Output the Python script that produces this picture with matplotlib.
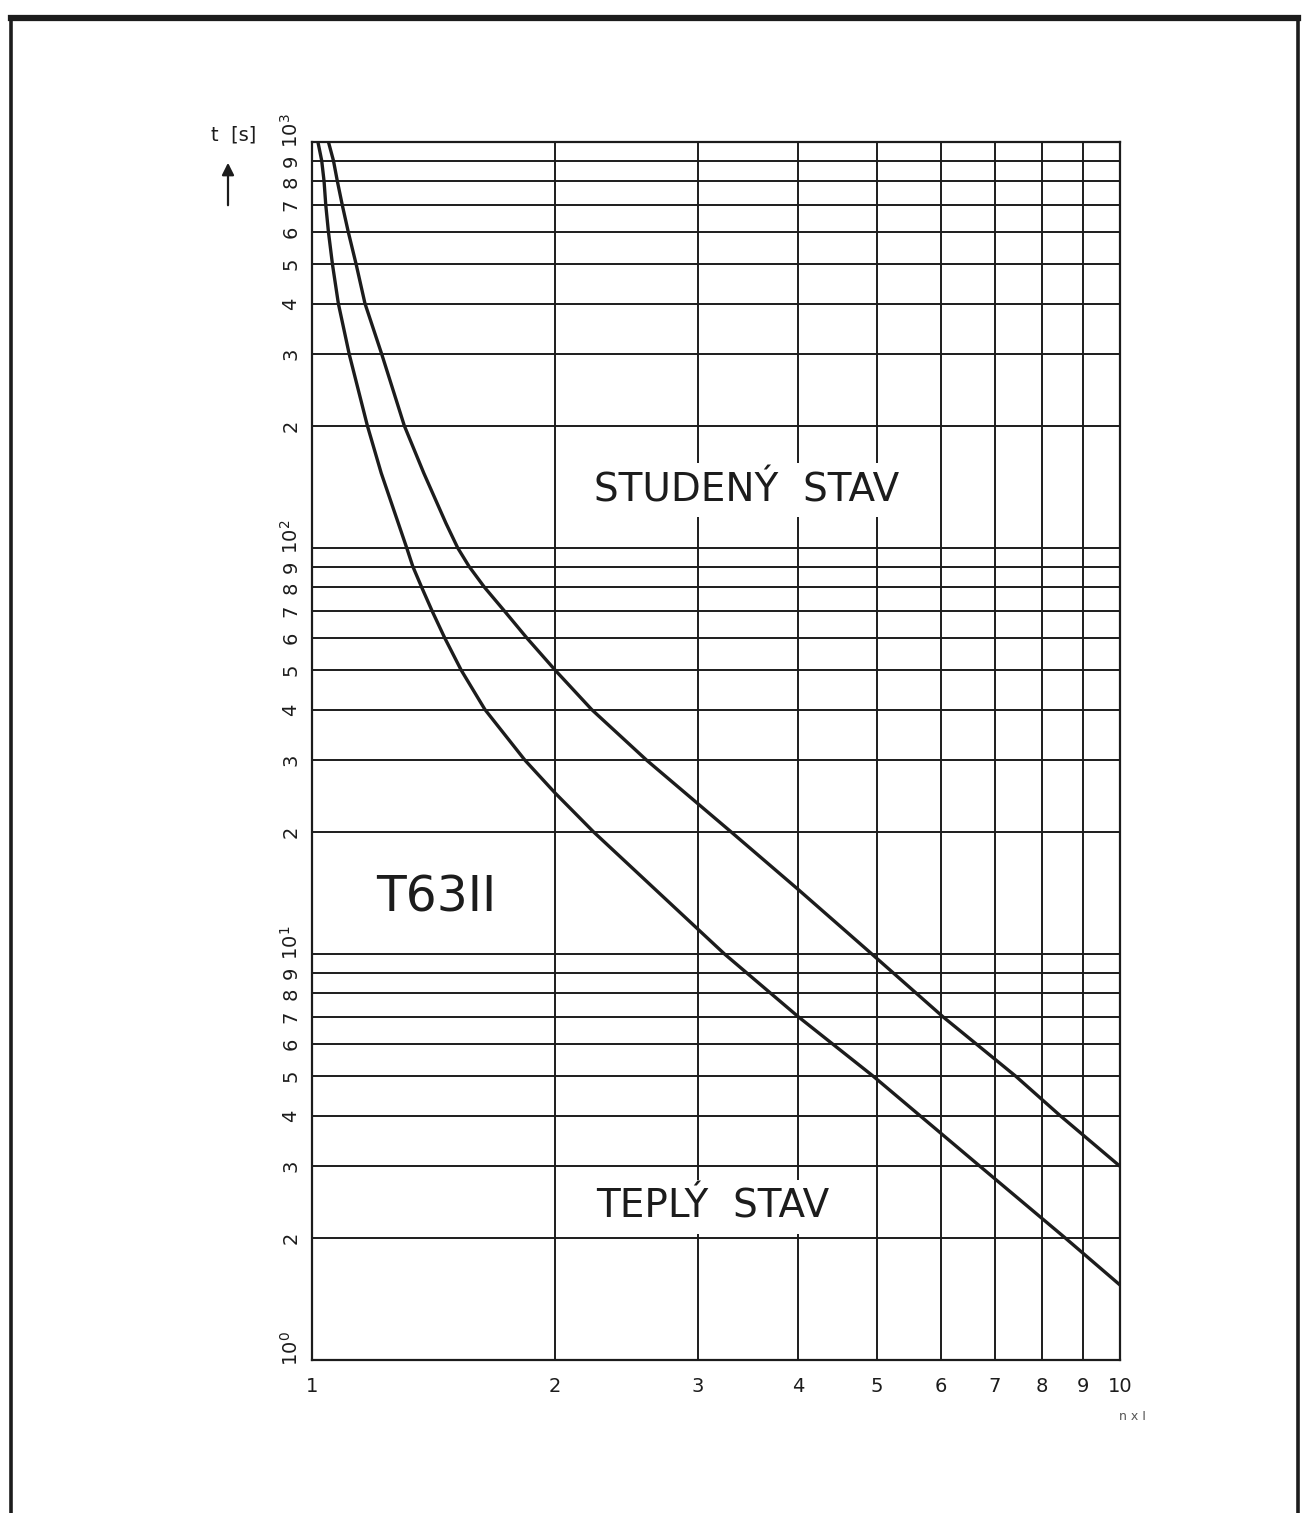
import matplotlib
matplotlib.use("Agg")
import matplotlib.pyplot as plt
from matplotlib.lines import Line2D

# ---------------- data ----------------
x_cold = [1.048, 1.063, 1.075, 1.090, 1.109, 1.134, 1.163, 1.220, 1.301, 1.375,
          1.465, 1.515, 1.565, 1.635, 1.730, 1.845, 2.000, 2.219, 2.596, 3.300,
          4.000, 4.930, 6.040, 7.430, 8.430, 10.00]
t_cold = [1000, 900, 800, 700, 600, 500, 400, 300, 200, 153,
          115, 100, 90, 80, 70, 60, 50, 40, 30, 20,
          14.4, 10, 7, 5, 4, 3.0]

x_warm = [1.017, 1.028, 1.035, 1.040, 1.048, 1.060, 1.078, 1.112, 1.171, 1.218,
          1.310, 1.333, 1.367, 1.408, 1.460, 1.530, 1.637, 1.835, 2.000, 2.230,
          3.240, 4.000, 4.950, 6.710, 8.550, 10.00]
t_warm = [1000, 900, 800, 700, 600, 500, 400, 300, 200, 153,
          100, 90, 80, 70, 60, 50, 40, 30, 24.9, 20,
          10, 7, 5, 3, 2, 1.53]

x_ticks = [1, 2, 3, 4, 5, 6, 7, 8, 9, 10]
x_tick_labels = ["1", "2", "3", "4", "5", "6", "7", "8", "9", "10"]
y_digits = ["2", "3", "4", "5", "6", "7", "8", "9"]
y_decades = [0, 1, 2, 3]

label_cold = "STUDENÝ  STAV"
label_warm = "TEPLÝ  STAV"
label_type = "T63II"
y_axis_label = "t  [s]"
x_axis_label = "n x I"

# ---------------- figure ----------------
W, H = 1316, 1513
fig = plt.figure(figsize=(W / 100, H / 100), dpi=100)
fig.patch.set_facecolor("white")

L, R, T, B = 312, 1120, 142, 1360
ax = fig.add_axes([L / W, 1 - B / H, (R - L) / W, (B - T) / H])
ax.set_xscale("log")
ax.set_yscale("log")
ax.set_xlim(1, 10)
ax.set_ylim(1, 1000)

ink = "#1c1c1c"
grid_lw = 1.4

# grid lines
y_grid = [m * 10 ** k for k in range(0, 3) for m in range(1, 10)] + [1000]
for yv in y_grid:
    ax.axhline(yv, color=ink, lw=grid_lw, zorder=1)
for xv in x_ticks:
    ax.axvline(xv, color=ink, lw=grid_lw, zorder=1)

for s in ax.spines.values():
    s.set_color(ink)
    s.set_linewidth(1.6)

# curves
ax.plot(x_cold, t_cold, color=ink, lw=2.4, zorder=5, solid_joinstyle="round")
ax.plot(x_warm, t_warm, color=ink, lw=2.4, zorder=5, solid_joinstyle="round")

# x tick labels
ax.set_xticks(x_ticks)
ax.set_xticklabels(x_tick_labels, fontsize=14, color=ink)
ax.xaxis.set_minor_locator(matplotlib.ticker.NullLocator())
ax.tick_params(axis="x", length=0, pad=12)
ax.set_yticks([])
ax.yaxis.set_minor_locator(matplotlib.ticker.NullLocator())

# y tick labels (rotated)
ytr = ax.get_yaxis_transform()
xlab = -21 / (R - L)
for k in range(0, 3):
    for i, d in enumerate(y_digits):
        ax.text(xlab, (i + 2) * 10 ** k, d, transform=ytr, rotation=90,
                ha="center", va="center", fontsize=14, color=ink)
for k in y_decades:
    ax.annotate("10$^{%d}$" % k, xy=(xlab, 10 ** k), xycoords=ytr,
                xytext=(0, -4), textcoords="offset points",
                rotation=90, ha="center", va="bottom", fontsize=14, color=ink,
                annotation_clip=False)

# text labels with white background
box = dict(facecolor="white", edgecolor="none", pad=6)
ax.text(747 / W, 1 - 490 / H, label_cold, transform=fig.transFigure,
        ha="center", va="center", fontsize=28, color=ink, bbox=box, zorder=3)
ax.text(713 / W, 1 - 1207 / H, label_warm, transform=fig.transFigure,
        ha="center", va="center", fontsize=28, color=ink, bbox=box, zorder=3)
ax.text(436 / W, 1 - 897 / H, label_type, transform=fig.transFigure,
        ha="center", va="center", fontsize=35, color=ink, zorder=3)

# axis labels
fig.text(234 / W, 1 - 135 / H, y_axis_label, ha="center", va="center",
         fontsize=14, color=ink)
ax.annotate("", xy=(228 / W, 1 - 160 / H), xytext=(228 / W, 1 - 208 / H),
            xycoords="figure fraction", textcoords="figure fraction",
            arrowprops=dict(arrowstyle="-|>", color=ink, lw=1.6,
                            mutation_scale=18))
fig.text(1132 / W, 1 - 1417 / H, x_axis_label, ha="center", va="center",
         fontsize=9, color="#555555")

# outer frame (top, left, right)
fig.add_artist(Line2D([11 / W, 1298 / W], [1 - 18 / H, 1 - 18 / H],
                      transform=fig.transFigure, color=ink, lw=4.5))
fig.add_artist(Line2D([11 / W, 11 / W], [0, 1 - 18 / H],
                      transform=fig.transFigure, color=ink, lw=2.6))
fig.add_artist(Line2D([1298 / W, 1298 / W], [0, 1 - 18 / H],
                      transform=fig.transFigure, color=ink, lw=2.6))

fig.savefig("out.png", dpi=100, facecolor="white")
